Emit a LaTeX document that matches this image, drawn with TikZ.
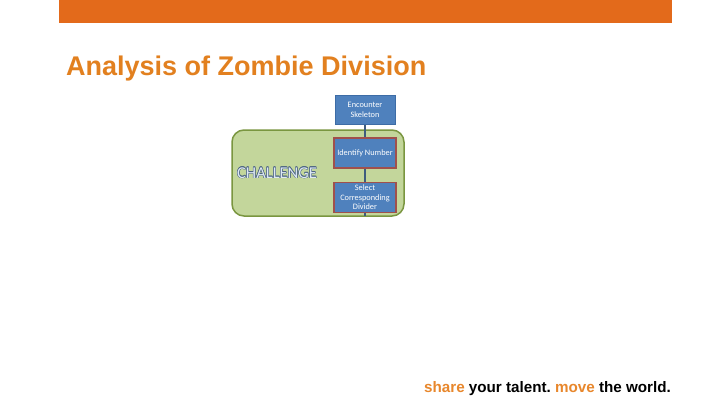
\documentclass[tikz,border=0pt]{standalone}
\usepackage{fontspec}
\setmainfont{Liberation Sans}
\newfontfamily\calib{Carlito}
\frenchspacing
\definecolor{barorange}{HTML}{E36A1B}
\definecolor{titleorange}{HTML}{E2801F}
\definecolor{tagorange}{HTML}{E8872C}
\definecolor{greenfill}{HTML}{C3D69B}
\definecolor{greenline}{HTML}{7A9640}
\definecolor{boxblue}{HTML}{4F81BD}
\definecolor{boxedge}{HTML}{3D6CA6}
\definecolor{rededge}{HTML}{A0504C}
\definecolor{linkcol}{HTML}{3E5C7E}
\definecolor{chfill}{HTML}{DDE8F4}
\definecolor{chline}{HTML}{4C6482}
\tikzset{
  stepbox/.style={draw=rededge, line width=1.5pt, fill=boxblue, text=white,
    minimum width=62pt, minimum height=30pt, inner sep=1pt, align=center,
    font=\calib\fontsize{8.3}{9.6}\selectfont},
  topbox/.style={stepbox, draw=boxedge, line width=0.8pt, minimum width=60pt, minimum height=29pt},
  link/.style={draw=linkcol, line width=1.3pt},
}
\begin{document}
\begin{tikzpicture}[x=1pt,y=-1pt]
\useasboundingbox (0,0) rectangle (720,405);
\fill[white] (0,0) rectangle (720,405);
% top bar
\fill[barorange] (59,0) rectangle (672,23);
% title
\node[anchor=base west, inner sep=0pt, text=titleorange,
  font=\bfseries\fontsize{27}{32}\selectfont] (title) at (66,75) {Analysis of Zombie Division};
% green challenge panel
\draw[fill=greenfill, draw=greenline, line width=1.5pt, rounded corners=12pt] (232,130) rectangle (404,216);
\node[topbox] (enc) at (365,110) {Encounter\\Skeleton};
\node[stepbox] (ident) at (365,153) {Identify Number};
\node[stepbox] (sel) at (365,197.5) {Select\\Corresponding\\Divider};
\coordinate (endlink) at (365,216);
\draw[link] (enc.south) -- (ident.north);
\draw[link] (ident.south) -- (sel.north);
\draw[link] (sel.south) -- (endlink);
% CHALLENGE outlined text
\foreach \dx/\dy in {-0.5/0,0.5/0,0/-0.5,0/0.5,-0.35/-0.35,0.35/0.35,-0.35/0.35,0.35/-0.35}{
  \node[anchor=base west, inner sep=0pt, text=chline, font=\calib\fontsize{16.5}{18}\selectfont]
    at (237+\dx,178+\dy) {CHALLENGE};
}
\node[anchor=base west, inner sep=0pt, text=chfill, font=\calib\fontsize{16.5}{18}\selectfont]
  (chal) at (237,178) {CHALLENGE};
% tagline
\node[anchor=base east, inner sep=0pt, font=\bfseries\fontsize{15.2}{18}\selectfont] (tag) at (671,392)
  {\textcolor{tagorange}{share} your talent. \textcolor{tagorange}{move} the world.};
\end{tikzpicture}
\end{document}
